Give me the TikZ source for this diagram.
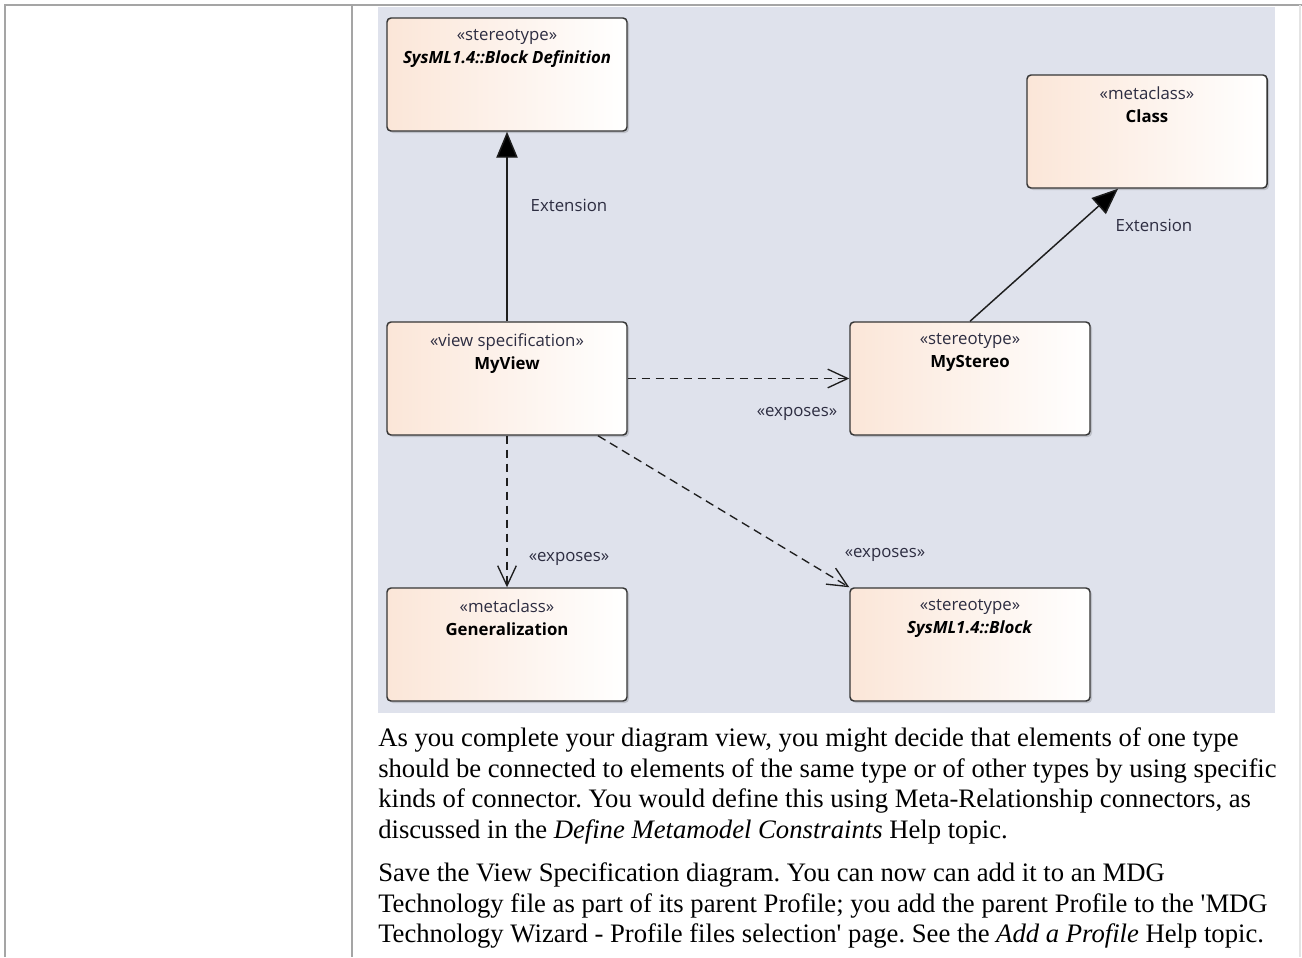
\documentclass[tikz,border=0pt]{standalone}
\usepackage{fontspec}
\setmainfont{Liberation Serif}
\newfontfamily\uifont{Open Sans}
\usetikzlibrary{arrows.meta,calc,positioning,shadows}

\definecolor{canvas}{RGB}{223,226,236}
\definecolor{peach}{RGB}{251,230,216}
\definecolor{frame}{RGB}{165,165,165}
\definecolor{ink}{RGB}{30,30,30}
\definecolor{stereoink}{RGB}{45,45,65}

\begin{document}
\begin{tikzpicture}[
    x=0.75pt, y=-0.75pt,
    font=\uifont\fontsize{12.6}{17.4}\selectfont,
    elem/.style={draw=ink!90, line width=1.1pt, rounded corners=3pt, left color=peach, right color=white,
        minimum width=180pt, minimum height=84.75pt, inner sep=0pt,
        drop shadow={shadow xshift=1.5pt, shadow yshift=-1.5pt, fill=black, opacity=.15}},
    head/.style={anchor=north, align=center, inner sep=0pt},
    lbl/.style={text=stereoink, inner sep=0pt},
    ext/.style={draw=ink, line width=1.1pt, -{Triangle[length=19.5pt,width=16pt,fill=black]}},
    exposes/.style={draw=ink, line width=1pt, dash pattern=on 6.5pt off 4pt,
        -{Straight Barb[length=15pt,width=14pt,line width=1pt]}},
    body/.style={anchor=base west, inner sep=0pt, font=\rmfamily\frenchspacing\fontsize{20}{24}\selectfont},
]
\useasboundingbox (0,0) rectangle (1302,957);

% page frame and canvas
\fill[canvas] (378,7) rectangle (1275,713);
\draw[frame, line width=1.5pt] (5,957) |- (1302,5);
\draw[frame, line width=1.5pt] (352,5) -- (352,957);
\draw[frame!30, line width=1pt] (1300,5) -- (1300,957);

% elements
\node[elem] (blockdef) at (507,74.5) {};
\node[elem] (class) at (1147,131.5) {};
\node[elem] (view) at (507,378.5) {};
\node[elem] (stereo) at (970,378.5) {};
\node[elem] (general) at (507,644.5) {};
\node[elem] (block) at (970,644.5) {};

\node[head] (blockdeftxt) at ($(blockdef.north)+(0,12)$) {{\color{stereoink}«stereotype»}\\\textbf{\textit{SysML1.4::Block Definition}}};
\node[head] (classtxt) at ($(class.north)+(0,12)$) {{\color{stereoink}«metaclass»}\\\textbf{Class}};
\node[head] (viewtxt) at ($(view.north)+(0,12)$) {{\color{stereoink}«view specification»}\\\textbf{MyView}};
\node[head] (stereotxt) at ($(stereo.north)+(0,12)$) {{\color{stereoink}«stereotype»}\\\textbf{MyStereo}};
\node[head] (generaltxt) at ($(general.north)+(0,12)$) {{\color{stereoink}«metaclass»}\\\textbf{Generalization}};
\node[head] (blocktxt) at ($(block.north)+(0,12)$) {{\color{stereoink}«stereotype»}\\\textbf{\textit{SysML1.4::Block}}};

% connectors
\draw[ext] (view) -- (blockdef);
\draw[ext] (stereo.north) -- ($(class.south)+(-29,0)$);
\draw[exposes] (view) -- (stereo);
\draw[exposes] (view) -- (general);
\draw[exposes] ($(view.south)+(91,0)$) -- (block.north west);

\node[lbl] (extlbl1) at (569,205) {Extension};
\node[lbl] (extlbl2) at (1154,225) {Extension};
\node[lbl] (explbl1) at (797,414) {«exposes»};
\node[lbl] (explbl2) at (569,559) {«exposes»};
\node[lbl] (explbl3) at (885,555) {«exposes»};

% text below the diagram
\node[body] (t1) at (378,746.5) {As you complete your diagram view, you might decide that elements of one type};
\node[body] (t2) at (378,777) {should be connected to elements of the same type or of other types by using specific};
\node[body] (t3) at (378,807.7) {kinds of connector. You would define this using Meta-Relationship connectors, as};
\node[body] (t4) at (378,838.3) {discussed in the \textit{Define Metamodel Constraints} Help topic.};
\node[body] (t5) at (378,881.5) {Save the View Specification diagram. You can now can add it to an MDG};
\node[body] (t6) at (378,912.2) {Technology file as part of its parent Profile; you add the parent Profile to the \textquotesingle MDG};
\node[body] (t7) at (378,942.9) {Technology Wizard - Profile files selection\textquotesingle{} page. See the \textit{Add a Profile} Help topic.};
\end{tikzpicture}
\end{document}
